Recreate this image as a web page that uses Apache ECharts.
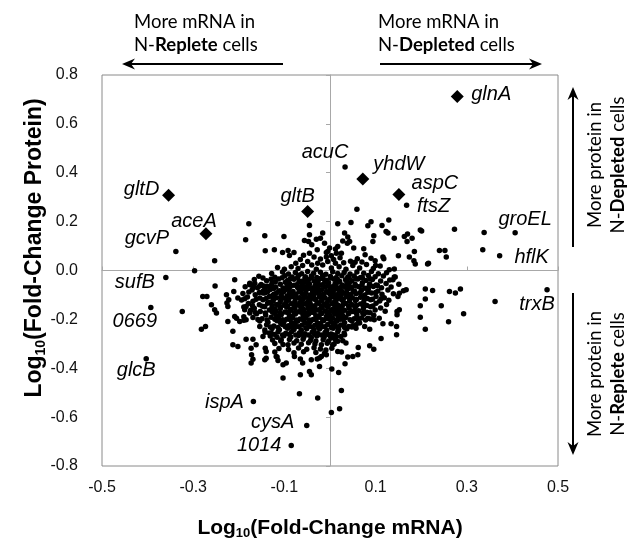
<!DOCTYPE html>
<html><head><meta charset="utf-8">
<script src="https://cdn.jsdelivr.net/npm/echarts@6/dist/echarts.min.js"></script>
<style>html,body{margin:0;padding:0;background:#fff}#c{width:627px;height:540px}</style>
</head><body><div id="c"></div>
<script>
// ---------- DATA ----------
const xTickLabels = ['-0.5', '-0.3', '-0.1', '0.1', '0.3', '0.5'];
const yTickLabels = ['-0.8', '-0.6', '-0.4', '-0.2', '0.0', '0.2', '0.4', '0.6', '0.8'];

// highlighted genes (diamonds): [log10 FC mRNA, log10 FC protein]
const diamondGenes = ['glnA', 'yhdW', 'aspC', 'gltD', 'gltB', 'aceA'];
const diamondValues = [[0.279, 0.712], [0.072, 0.374], [0.151, 0.311], [-0.354, 0.308], [-0.049, 0.241], [-0.272, 0.150]];

// labelled ordinary genes
const labelledGenes = ['acuC', 'ftsZ', 'groEL', 'hflK', 'trxB', 'gcvP', 'sufB', '0669', 'glcB', 'ispA', 'cysA', '1014'];
const labelledValues = [[0.033, 0.424], [0.168, 0.267], [0.406, 0.154], [0.372, 0.060], [0.476, -0.079], [-0.338, 0.078],
  [-0.360, -0.029], [-0.393, -0.151], [-0.403, -0.361], [-0.168, -0.536], [-0.051, -0.634], [-0.085, -0.716]];

// all other genes
const outlierPoints = [
  [-0.178,0.191],[-0.185,0.126],[-0.143,0.142],[-0.101,0.139],[-0.142,0.081],[-0.122,0.085],[-0.104,0.074],[-0.092,0.082],[-0.079,0.074],[-0.089,0.061],
  [-0.253,0.040],[-0.045,0.184],[-0.045,0.146],[-0.047,0.119],[-0.056,0.123],[-0.040,0.105],[-0.030,0.128],[-0.021,0.132],[-0.016,0.153],[-0.012,0.112],
  [-0.028,0.085],[-0.045,0.071],[-0.035,0.055],[-0.027,0.030],[-0.021,0.047],[-0.008,0.074],[-0.001,0.092],[-0.049,0.037],[-0.040,0.023],[-0.016,0.023],
  [-0.005,0.037],[0.003,0.010],[-0.297,-0.001],
  [0.059,0.251],[0.017,0.191],[0.046,0.196],[0.083,0.183],[0.090,0.200],[0.114,0.184],[0.129,0.207],[0.032,0.153],[0.039,0.137],[0.028,0.121],
  [0.038,0.112],[0.043,0.119],[0.052,0.092],[0.017,0.098],[0.014,0.071],[0.025,0.071],[0.003,0.060],[-0.008,0.055],[0.055,0.034],[0.074,0.089],
  [0.077,0.064],[0.096,0.142],[0.094,0.119],[0.127,0.153],[0.123,0.160],[0.141,0.132],[0.099,0.040],[0.116,0.055],[0.118,0.048],[0.150,0.060],
  [0.163,0.139],[0.170,0.149],[0.169,0.119],[0.180,0.132],[0.198,0.166],[0.201,0.162],[0.185,0.078],[0.174,0.055],[0.184,0.040],[0.187,0.027],
  [0.216,0.030],[0.240,0.082],[0.252,0.082],[0.255,0.055],[0.273,0.169],[0.130,0.003],[0.141,0.006],[0.138,-0.038],[0.143,-0.027],[0.335,0.085],
  [0.338,0.155],[0.214,0.027],[0.362,-0.127],
  [0.167,-0.079],[0.209,-0.076],[0.225,-0.082],[0.209,-0.117],[0.244,-0.144],[0.262,-0.086],[0.275,-0.092],[0.286,-0.076],[0.198,-0.144],[0.198,-0.191],
  [0.293,-0.177],[0.260,-0.210],[0.209,-0.240],[0.146,-0.263],[0.146,-0.229],[0.134,-0.218],[0.112,-0.278],[0.096,-0.322],[0.087,-0.308],[0.062,-0.315],
  [0.061,-0.345],[0.050,-0.352],[0.039,-0.354],[0.033,-0.382],[0.019,-0.417],[0.004,-0.403],[0.025,-0.491],[0.021,-0.566],[0.003,-0.581],[0.152,-0.093],
  [0.149,-0.106],[0.152,-0.161],[0.147,-0.181],[0.147,-0.168],[0.017,-0.331],[0.025,-0.334],[0.006,-0.304],[-0.008,-0.345],[0.087,-0.240],[0.076,-0.229],
  [0.065,-0.215],[0.050,-0.226],[0.057,-0.236],[0.116,-0.218],[0.108,-0.195],[0.097,-0.202],[0.083,-0.195],[0.032,-0.263],[0.035,-0.297],[0.017,-0.290],
  [0.014,-0.270],[0.003,-0.276],
  [-0.252,-0.063],[-0.209,-0.038],[-0.279,-0.106],[-0.270,-0.106],[-0.260,-0.140],[-0.253,-0.161],[-0.249,-0.174],[-0.324,-0.168],[-0.282,-0.240],[-0.273,-0.229],
  [-0.227,-0.099],[-0.222,-0.120],[-0.226,-0.133],[-0.211,-0.086],[-0.202,-0.113],[-0.205,-0.195],[-0.189,-0.189],[-0.198,-0.209],[-0.184,-0.202],[-0.213,-0.304],
  [-0.202,-0.311],[-0.173,-0.318],[-0.172,-0.345],[-0.176,-0.058],[-0.169,-0.072],[-0.165,-0.052],[-0.154,-0.063],[-0.147,-0.092],[-0.143,-0.072],[-0.187,-0.161],
  [-0.176,-0.174],[-0.184,-0.147],[-0.154,-0.229],[-0.143,-0.243],[-0.147,-0.270],[-0.133,-0.256],[-0.140,-0.359],[-0.118,-0.352],[-0.224,-0.147],[-0.224,-0.209],
  [-0.189,-0.204],[-0.209,-0.188],[-0.213,-0.249],[-0.184,-0.281],[-0.169,-0.281],[-0.162,-0.304],[-0.142,-0.318],[-0.140,-0.331],[-0.143,-0.365],[-0.169,-0.363],
  [-0.173,-0.379],[-0.116,-0.354],[-0.114,-0.368],[-0.096,-0.379],[-0.103,-0.386],[-0.078,-0.352],[-0.065,-0.362],[-0.060,-0.379],[-0.041,-0.365],[-0.028,-0.362],
  [-0.023,-0.358],[-0.019,-0.352],[-0.103,-0.440],[-0.065,-0.427],[-0.045,-0.413],[-0.041,-0.427],[-0.023,-0.393],[-0.067,-0.504],[-0.027,-0.522],[-0.107,-0.283],
  [-0.092,-0.304]
];

const corePoints = [
  [-0.085,0.015],[-0.070,0.008],[-0.060,0.020],[0.020,0.015],[0.035,0.005],[0.050,0.020],[0.065,0.010],[0.080,0.025],[-0.100,0.005],[-0.115,0.012],
  [0.095,0.008],[0.110,0.018],[-0.030,0.005],[0.012,0.030],[-0.065,0.045],[-0.058,0.062],[0.008,0.045],[0.022,0.052],[0.045,0.038],[0.060,0.048],
  [-0.005,0.078],[0.012,0.088],[0.030,0.032],[-0.075,0.030],[0.070,0.035],[0.090,0.050],[0.100,0.020],
  [-0.128,-0.012],[-0.104,-0.006],[-0.091,-0.014],[-0.076,-0.008],[-0.062,-0.013],[-0.049,-0.004],[-0.036,-0.011],[-0.021,-0.007],[-0.009,-0.015],[0.006,-0.005],
  [0.017,-0.012],[0.031,-0.008],[0.044,-0.014],[0.059,-0.006],[0.074,-0.011],[0.091,-0.004],[0.106,-0.013],[0.124,-0.009],
  [-0.156,-0.024],[-0.121,-0.028],[-0.099,-0.021],[-0.083,-0.027],[-0.069,-0.019],[-0.054,-0.026],[-0.041,-0.022],[-0.029,-0.029],[-0.016,-0.020],[0.001,-0.025],
  [0.013,-0.030],[0.026,-0.021],[0.039,-0.027],[0.053,-0.023],[0.067,-0.029],[0.084,-0.020],[0.099,-0.026],[0.117,-0.022],[0.141,-0.027],
  [-0.166,-0.037],[-0.139,-0.042],[-0.113,-0.035],[-0.093,-0.041],[-0.079,-0.036],[-0.063,-0.044],[-0.047,-0.038],[-0.035,-0.043],[-0.023,-0.034],[-0.007,-0.040],
  [0.009,-0.036],[0.021,-0.044],[0.034,-0.038],[0.048,-0.042],[0.061,-0.035],[0.079,-0.041],[0.093,-0.037],[0.111,-0.043],[0.131,-0.039],
  [-0.176,-0.052],[-0.151,-0.057],[-0.127,-0.050],[-0.109,-0.056],[-0.089,-0.053],[-0.073,-0.058],[-0.059,-0.049],[-0.045,-0.055],[-0.031,-0.051],[-0.015,-0.057],
  [-0.003,-0.050],[0.011,-0.054],[0.027,-0.059],[0.042,-0.052],[0.055,-0.056],[0.071,-0.050],[0.087,-0.055],[0.101,-0.059],[0.123,-0.053],[0.151,-0.056],
  [-0.186,-0.066],[-0.159,-0.071],[-0.137,-0.064],[-0.119,-0.069],[-0.103,-0.072],[-0.087,-0.065],[-0.071,-0.070],[-0.055,-0.067],[-0.039,-0.073],[-0.026,-0.064],
  [-0.011,-0.069],[0.005,-0.066],[0.019,-0.072],[0.032,-0.065],[0.047,-0.070],[0.063,-0.067],[0.077,-0.073],[0.095,-0.065],[0.113,-0.071],[0.134,-0.068],
  [-0.171,-0.080],[-0.147,-0.085],[-0.131,-0.078],[-0.111,-0.083],[-0.097,-0.079],[-0.081,-0.086],[-0.064,-0.081],[-0.051,-0.077],[-0.037,-0.084],[-0.019,-0.080],
  [-0.007,-0.087],[0.008,-0.079],[0.025,-0.083],[0.037,-0.078],[0.054,-0.085],[0.069,-0.081],[0.084,-0.077],[0.105,-0.084],[0.127,-0.080],[0.161,-0.083],
  [-0.191,-0.094],[-0.164,-0.099],[-0.143,-0.092],[-0.123,-0.097],[-0.107,-0.101],[-0.089,-0.093],[-0.075,-0.098],[-0.061,-0.095],[-0.044,-0.100],[-0.031,-0.092],
  [-0.014,-0.097],[-0.001,-0.094],[0.015,-0.099],[0.028,-0.093],[0.045,-0.098],[0.057,-0.095],[0.076,-0.100],[0.091,-0.092],[0.114,-0.097],[0.139,-0.095],
  [-0.181,-0.108],[-0.154,-0.113],[-0.133,-0.106],[-0.117,-0.111],[-0.099,-0.114],[-0.085,-0.107],[-0.067,-0.112],[-0.053,-0.109],[-0.041,-0.115],[-0.023,-0.106],
  [-0.011,-0.111],[0.007,-0.108],[0.019,-0.114],[0.036,-0.107],[0.049,-0.112],[0.067,-0.109],[0.082,-0.115],[0.101,-0.106],[0.119,-0.111],
  [-0.194,-0.121],[-0.169,-0.126],[-0.147,-0.120],[-0.125,-0.125],[-0.109,-0.128],[-0.091,-0.122],[-0.077,-0.127],[-0.061,-0.123],[-0.049,-0.129],[-0.032,-0.120],
  [-0.019,-0.125],[-0.002,-0.122],[0.013,-0.128],[0.026,-0.121],[0.043,-0.126],[0.056,-0.123],[0.074,-0.129],[0.089,-0.120],[0.109,-0.125],[0.129,-0.122],
  [-0.179,-0.135],[-0.155,-0.140],[-0.137,-0.134],[-0.117,-0.139],[-0.101,-0.142],[-0.084,-0.136],[-0.071,-0.141],[-0.054,-0.137],[-0.041,-0.143],[-0.025,-0.134],
  [-0.012,-0.139],[0.005,-0.136],[0.018,-0.142],[0.035,-0.135],[0.049,-0.140],[0.067,-0.137],[0.081,-0.143],[0.101,-0.134],[0.124,-0.139],
  [-0.189,-0.149],[-0.166,-0.154],[-0.143,-0.148],[-0.127,-0.153],[-0.109,-0.156],[-0.095,-0.150],[-0.077,-0.155],[-0.064,-0.151],[-0.047,-0.157],[-0.034,-0.148],
  [-0.017,-0.153],[-0.005,-0.150],[0.012,-0.156],[0.025,-0.149],[0.042,-0.154],[0.055,-0.151],[0.073,-0.157],[0.089,-0.148],[0.111,-0.153],
  [-0.174,-0.163],[-0.153,-0.168],[-0.133,-0.162],[-0.118,-0.167],[-0.099,-0.170],[-0.087,-0.164],[-0.069,-0.169],[-0.057,-0.165],[-0.040,-0.171],[-0.027,-0.162],
  [-0.010,-0.167],[0.002,-0.164],[0.019,-0.170],[0.032,-0.163],[0.049,-0.168],[0.063,-0.165],[0.081,-0.171],[0.099,-0.162],[0.121,-0.167],
  [-0.161,-0.177],[-0.141,-0.182],[-0.121,-0.176],[-0.107,-0.181],[-0.089,-0.184],[-0.076,-0.178],[-0.059,-0.183],[-0.047,-0.179],[-0.031,-0.185],[-0.018,-0.176],
  [-0.001,-0.181],[0.011,-0.178],[0.028,-0.184],[0.041,-0.177],[0.059,-0.182],[0.074,-0.179],[0.096,-0.183],
  [-0.169,-0.192],[-0.149,-0.197],[-0.129,-0.191],[-0.113,-0.196],[-0.095,-0.199],[-0.082,-0.193],[-0.066,-0.198],[-0.053,-0.194],[-0.037,-0.200],[-0.024,-0.191],
  [-0.007,-0.196],[0.005,-0.193],[0.022,-0.199],[0.035,-0.192],[0.053,-0.197],[0.069,-0.194],[0.089,-0.198],
  [-0.154,-0.207],[-0.136,-0.212],[-0.116,-0.206],[-0.101,-0.211],[-0.084,-0.214],[-0.071,-0.208],[-0.055,-0.213],[-0.043,-0.209],[-0.027,-0.215],[-0.014,-0.206],
  [0.003,-0.211],[0.015,-0.208],[0.032,-0.214],[0.048,-0.207],[0.063,-0.212],
  [-0.139,-0.222],[-0.123,-0.227],[-0.104,-0.221],[-0.091,-0.226],[-0.074,-0.229],[-0.061,-0.223],[-0.045,-0.228],[-0.033,-0.224],[-0.017,-0.230],[-0.005,-0.221],
  [0.011,-0.226],[0.024,-0.223],[0.041,-0.229],[0.057,-0.222],
  [-0.127,-0.237],[-0.111,-0.242],[-0.093,-0.236],[-0.079,-0.241],[-0.063,-0.244],[-0.051,-0.238],[-0.035,-0.243],[-0.023,-0.239],[-0.007,-0.245],[0.007,-0.236],
  [0.019,-0.241],[0.037,-0.238],
  [-0.142,-0.253],[-0.128,-0.258],[-0.114,-0.252],[-0.097,-0.257],[-0.084,-0.251],[-0.067,-0.256],[-0.055,-0.259],[-0.039,-0.253],[-0.027,-0.258],[-0.011,-0.254],
  [0.003,-0.260],[0.017,-0.251],[0.031,-0.256],
  [-0.131,-0.268],[-0.116,-0.273],[-0.101,-0.267],[-0.086,-0.272],[-0.069,-0.266],[-0.057,-0.271],[-0.041,-0.274],[-0.029,-0.268],[-0.013,-0.273],[0.001,-0.269],
  [0.011,-0.275],[0.024,-0.270],
  [-0.126,-0.284],[-0.108,-0.289],[-0.089,-0.282],[-0.073,-0.287],[-0.059,-0.281],[-0.043,-0.286],[-0.031,-0.289],[-0.015,-0.283],[-0.003,-0.288],[0.012,-0.283],
  [0.028,-0.287],
  [-0.121,-0.299],[-0.103,-0.303],[-0.079,-0.297],[-0.063,-0.302],[-0.047,-0.296],[-0.033,-0.301],[-0.019,-0.304],[-0.006,-0.298],[0.009,-0.301],
  [-0.112,-0.319],[-0.091,-0.323],[-0.069,-0.317],[-0.051,-0.322],[-0.035,-0.316],[-0.021,-0.321],[-0.009,-0.325],[0.004,-0.318],
  [-0.121,-0.333],[-0.079,-0.337],[-0.058,-0.332],[-0.031,-0.336],[-0.012,-0.339]
];

const coreFill = [
  [-0.147,-0.031],[-0.129,-0.035],[-0.105,-0.030],[-0.087,-0.034],[-0.071,-0.029],[-0.055,-0.033],[-0.041,-0.030],[-0.015,-0.034],[0.002,-0.031],[0.016,-0.035],
  [0.042,-0.031],[0.057,-0.034],[0.071,-0.030],[0.088,-0.034],
  [-0.168,-0.060],[-0.145,-0.063],[-0.128,-0.059],[-0.094,-0.062],[-0.079,-0.060],[-0.063,-0.064],[-0.047,-0.061],[-0.033,-0.063],[-0.018,-0.060],[-0.004,-0.062],
  [0.012,-0.060],[0.026,-0.064],[0.040,-0.061],[0.056,-0.063],[0.070,-0.060],[0.086,-0.062],[0.104,-0.061],
  [-0.178,-0.088],[-0.155,-0.090],[-0.137,-0.087],[-0.117,-0.091],[-0.102,-0.088],[-0.083,-0.090],[-0.068,-0.087],[-0.053,-0.091],[-0.038,-0.088],[-0.024,-0.090],
  [-0.008,-0.088],[0.007,-0.091],[0.021,-0.088],[0.036,-0.090],[0.051,-0.087],[0.066,-0.091],[0.083,-0.089],[0.100,-0.090],
  [-0.187,-0.116],[-0.162,-0.118],[-0.140,-0.115],[-0.124,-0.119],[-0.107,-0.116],[-0.092,-0.118],[-0.076,-0.115],[-0.060,-0.119],[-0.046,-0.116],[-0.031,-0.118],
  [-0.016,-0.115],[-0.002,-0.119],[0.013,-0.116],[0.029,-0.118],[0.043,-0.115],[0.058,-0.119],[0.075,-0.116],[0.093,-0.118],[0.112,-0.116],
  [-0.170,-0.144],[-0.148,-0.146],[-0.127,-0.143],[-0.110,-0.147],[-0.093,-0.144],[-0.078,-0.146],[-0.062,-0.143],[-0.048,-0.147],[-0.033,-0.144],[-0.019,-0.146],
  [-0.004,-0.143],[0.011,-0.147],[0.027,-0.144],[0.041,-0.146],[0.058,-0.143],[0.074,-0.147],[0.094,-0.145],
  [-0.164,-0.172],[-0.142,-0.174],[-0.126,-0.171],[-0.109,-0.175],[-0.093,-0.172],[-0.078,-0.174],[-0.063,-0.171],[-0.049,-0.175],[-0.035,-0.172],[-0.020,-0.174],
  [-0.005,-0.171],[0.010,-0.175],[0.025,-0.172],[0.040,-0.174],[0.056,-0.171],[0.072,-0.175],[0.088,-0.173],
  [-0.158,-0.200],[-0.138,-0.203],[-0.121,-0.199],[-0.104,-0.202],[-0.088,-0.200],[-0.074,-0.203],[-0.060,-0.200],[-0.045,-0.203],[-0.031,-0.200],[-0.016,-0.202],
  [-0.001,-0.199],[0.013,-0.203],[0.029,-0.200],[0.044,-0.202],[0.061,-0.200],[0.078,-0.203],
  [-0.131,-0.231],[-0.114,-0.233],[-0.098,-0.230],[-0.083,-0.233],[-0.068,-0.230],[-0.053,-0.234],[-0.039,-0.231],[-0.025,-0.233],[-0.011,-0.230],[0.003,-0.233],
  [0.018,-0.230],[0.032,-0.233],[0.048,-0.231],
  [-0.121,-0.262],[-0.104,-0.264],[-0.090,-0.261],[-0.075,-0.264],[-0.061,-0.261],[-0.047,-0.264],[-0.033,-0.261],[-0.019,-0.264],[-0.005,-0.262],[0.009,-0.264],
  [-0.120,-0.047],[-0.098,-0.048],[-0.068,-0.046],[-0.052,-0.048],[-0.026,-0.047],[-0.011,-0.046],[0.017,-0.048],[0.037,-0.047],
  [-0.124,-0.074],[-0.090,-0.076],[-0.058,-0.075],[-0.044,-0.074],[-0.028,-0.076],[0.000,-0.074],[0.014,-0.076],[0.041,-0.075],
  [-0.126,-0.102],[-0.094,-0.104],[-0.081,-0.102],[-0.057,-0.103],[-0.036,-0.102],[-0.019,-0.104],[0.002,-0.103],[0.024,-0.102],[0.040,-0.104],
  [-0.132,-0.130],[-0.097,-0.132],[-0.066,-0.131],[-0.044,-0.130],[-0.028,-0.132],[-0.007,-0.131],[0.009,-0.130],[0.030,-0.132],
  [-0.121,-0.158],[-0.086,-0.160],[-0.058,-0.159],[-0.037,-0.158],[-0.022,-0.160],[0.006,-0.159],[0.021,-0.158],
  [-0.117,-0.186],[-0.083,-0.188],[-0.053,-0.187],[-0.025,-0.186],[-0.008,-0.188],[0.018,-0.187],
  [-0.108,-0.216],[-0.078,-0.217],[-0.048,-0.218],[-0.021,-0.217],[0.008,-0.218]
];

// ---------- STYLE ----------
const FONT = '"Liberation Sans", Arial, sans-serif';
const NOTE_FONT = 'Lato, "Open Sans", sans-serif';
const labelOffsets = {
  glnA: [34, -2], yhdW: [36, -15], aspC: [36, -11], gltD: [-27, -6], gltB: [-10, -15], aceA: [-12, -12],
  acuC: [-20, -14], ftsZ: [27, 1], groEL: [10, -13], hflK: [32, 2], trxB: [-10, 15], gcvP: [-29, -13],
  sufB: [-31, 5], '0669': [-16, 14], glcB: [-10, 12], ispA: [-29, 1], cysA: [-34, -3], '1014': [-32, 0]
};
const labelStyle = { show: true, position: 'inside', align: 'center', verticalAlign: 'middle',
  fontFamily: FONT, fontStyle: 'italic', fontSize: 20, color: '#000', opacity: 1 };

function labelled(names, values) {
  return names.map((n, i) => ({ name: n, value: values[i],
    label: Object.assign({}, labelStyle, { formatter: n, offset: labelOffsets[n] }) }));
}

function arrow(x1, y1, x2, y2) {
  const len = Math.hypot(x2 - x1, y2 - y1), ux = (x2 - x1) / len, uy = (y2 - y1) / len;
  const nx = -uy, ny = ux, L = 13, W = 5.5, N = 9;
  return [
    { type: 'line', shape: { x1, y1, x2: x2 - ux * N, y2: y2 - uy * N }, style: { stroke: '#000', lineWidth: 2 } },
    { type: 'polygon', shape: { points: [[x2, y2], [x2 - ux * L + nx * W, y2 - uy * L + ny * W], [x2 - ux * N, y2 - uy * N], [x2 - ux * L - nx * W, y2 - uy * L - ny * W]] },
      style: { fill: '#000' } }
  ];
}

const noteRich = { b: { fontFamily: NOTE_FONT, fontWeight: 'bold', fontSize: 18.5, lineHeight: 23, fill: '#000' } };
function note(text, x, y, rot, align) {
  return { type: 'text', x, y, rotation: rot || 0,
    style: { text, font: '18.5px ' + NOTE_FONT, lineHeight: 23, fill: '#000', align: align || 'left', verticalAlign: 'middle', rich: noteRich } };
}

const dotStyle = { color: '#000', opacity: 1 };
const chart = echarts.init(document.getElementById('c'), null, { renderer: 'canvas' });
chart.setOption({
  animation: false,
  backgroundColor: '#fff',
  grid: { left: 102, top: 75, width: 456, height: 391, show: true, borderColor: '#8a8a8a', borderWidth: 1, backgroundColor: 'transparent' },
  xAxis: [
    { type: 'value', min: -0.5, max: 0.5, interval: 0.2, position: 'bottom',
      axisLine: { show: false, onZero: false }, axisTick: { show: false }, splitLine: { show: false },
      axisLabel: { margin: 14, fontSize: 16, fontFamily: FONT, color: '#111', formatter: (v, i) => xTickLabels[i] } },
    { type: 'value', min: -0.5, max: 0.5, interval: 0.2, position: 'bottom',
      axisLine: { show: true, onZero: true, onZeroAxisIndex: 0, lineStyle: { color: '#a8a8a8', width: 1 } },
      axisTick: { show: true, inside: true, length: 4, lineStyle: { color: '#a8a8a8' } },
      axisLabel: { show: false }, splitLine: { show: false } }
  ],
  yAxis: [
    { type: 'value', min: -0.8, max: 0.8, interval: 0.2, position: 'left',
      axisLine: { show: false, onZero: false }, axisTick: { show: false }, splitLine: { show: false },
      axisLabel: { margin: 24, fontSize: 16, fontFamily: FONT, color: '#111', formatter: (v, i) => yTickLabels[i] } },
    { type: 'value', min: -0.8, max: 0.8, interval: 0.2, position: 'left',
      axisLine: { show: true, onZero: true, onZeroAxisIndex: 0, lineStyle: { color: '#a8a8a8', width: 1 } },
      axisTick: { show: true, inside: false, length: 4, lineStyle: { color: '#a8a8a8' } },
      axisLabel: { show: false }, splitLine: { show: false } }
  ],
  series: [
    { type: 'scatter', xAxisIndex: 0, yAxisIndex: 0, symbolSize: 5.5, itemStyle: dotStyle, silent: true,
      data: corePoints.concat(coreFill, outlierPoints) },
    { type: 'scatter', xAxisIndex: 0, yAxisIndex: 0, symbolSize: 5.5, itemStyle: dotStyle, silent: true,
      data: labelled(labelledGenes, labelledValues) },
    { type: 'scatter', xAxisIndex: 0, yAxisIndex: 0, symbol: 'diamond', symbolSize: 13, itemStyle: dotStyle, silent: true,
      data: labelled(diamondGenes, diamondValues) }
  ],
  graphic: [
    { type: 'text', x: 330, y: 528, style: { text: 'Log{sub|10}(Fold-Change mRNA)', font: 'bold 21px ' + FONT, fill: '#000',
      align: 'center', verticalAlign: 'middle', lineHeight: 24,
      rich: { sub: { fontFamily: FONT, fontWeight: 'bold', fontSize: 13, lineHeight: 12, verticalAlign: 'bottom', fill: '#000' } } } },
    { type: 'text', x: 35, y: 248, rotation: Math.PI / 2, style: { text: 'Log{sub|10}(Fold-Change Protein)', font: 'bold 23px ' + FONT, fill: '#000',
      align: 'center', verticalAlign: 'middle', lineHeight: 26,
      rich: { sub: { fontFamily: FONT, fontWeight: 'bold', fontSize: 14, lineHeight: 13, verticalAlign: 'bottom', fill: '#000' } } } },
    note('More mRNA in\nN-{b|Replete} cells', 134, 34),
    note('More mRNA in\nN-{b|Depleted} cells', 378, 34),
    note('More protein in\nN-{b|Depleted} cells', 607, 165, Math.PI / 2, 'center'),
    note('More protein in\nN-{b|Replete} cells', 607, 374, Math.PI / 2, 'center'),
    ...arrow(283, 64, 122, 64),
    ...arrow(380, 64, 542, 64),
    ...arrow(573, 247, 573, 87),
    ...arrow(573, 293, 573, 455)
  ]
});
</script></body></html>
